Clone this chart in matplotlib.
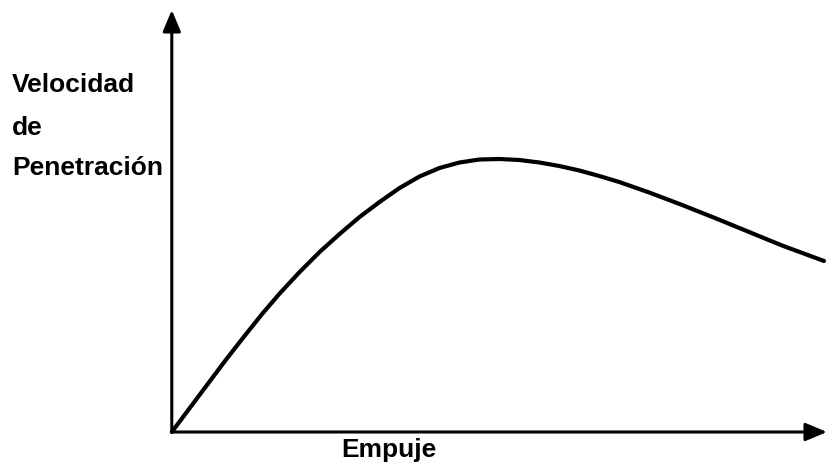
import matplotlib.pyplot as plt

# empuje vs velocidad de penetracion (arbitrary units, origin at axes corner)
empuje = [0, 18, 36, 54, 72, 90, 108, 128, 148, 168, 188, 208, 228, 248,
          268, 288, 308, 328, 348, 368, 388, 408, 428, 448, 478, 511, 545,
          578, 611, 653]
velocidad = [0, 24, 48, 72, 95, 117.5, 138.5, 160, 180, 198, 215, 230, 244,
             255.5, 264, 269.5, 272.5, 273, 272, 269.5, 266, 261.5, 256, 250,
             239.5, 227, 213.5, 200, 186.5, 171]

ylabel_lines = ["Velocidad", "de", "Penetración"]
xlabel = "Empuje"

plt.rcParams['font.family'] = ['Liberation Sans', 'DejaVu Sans']

fig = plt.figure(figsize=(8.28, 4.71), dpi=100)
ax = fig.add_axes([0, 0, 1, 1])
ax.set_xlim(-172, 657)
ax.set_ylim(-39, 432)
ax.axis('off')

ax.plot(empuje, velocidad, color='black', lw=3, solid_capstyle='round',
        solid_joinstyle='round')

arrow = dict(arrowstyle='-|>,head_length=1.0,head_width=0.42', color='black',
             lw=2.2, mutation_scale=13, shrinkA=0, shrinkB=0)
ax.annotate('', xy=(0, 422), xytext=(0, 0), arrowprops=arrow)
ax.annotate('', xy=(656, 0), xytext=(0, 0), arrowprops=arrow)

for txt, yb in zip(ylabel_lines, [340, 297, 257]):
    ax.text(-160, yb, txt, fontsize=19, fontweight='bold', va='baseline')
ax.text(170, -25, xlabel, fontsize=19, fontweight='bold', va='baseline')

fig.savefig("out.png", dpi=100)
